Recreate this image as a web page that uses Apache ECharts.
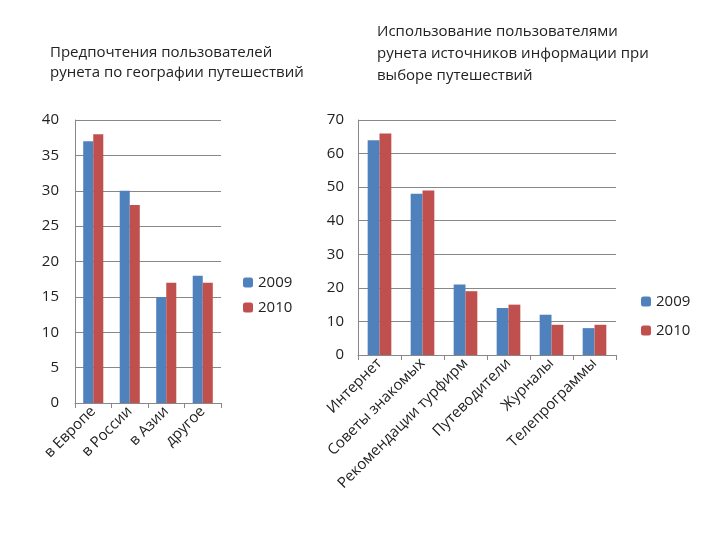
<!DOCTYPE html>
<html><head><meta charset="utf-8">
<script src="https://cdn.jsdelivr.net/npm/echarts@6/dist/echarts.min.js"></script>
<style>html,body{margin:0;background:#fff}#c{width:720px;height:540px}</style>
</head><body><div id="c"></div>
<script>
const catsL = ['в Европе','в России','в Азии','другое'];
const l2009 = [37,30,15,18];
const l2010 = [38,28,17,17];
const catsR = ['Интернет','Советы знакомых','Рекомендации турфирм','Путеводители','Журналы','Телепрограммы'];
const r2009 = [64,48,21,14,12,8];
const r2010 = [66,49,19,15,9,9];
const blue = '#4F81BD', red = '#C0504D';
const F = 'Open Sans';
const ax = (max, interval, m) => ({type:'value',min:0,max,interval,
  axisLine:{show:true,lineStyle:{color:'#888'}},
  axisLabel:{fontFamily:F,fontSize:15,color:'#222',margin:m},
  splitLine:{lineStyle:{color:'#888'}}});
const cx = (cats, gi) => ({type:'category',data:cats,gridIndex:gi,
  axisTick:{show:true,length:5},axisLine:{lineStyle:{color:'#888'}},
  axisLabel:{rotate:45,fontFamily:F,fontSize:15,color:'#222',interval:0,margin:6}});
const chart = echarts.init(document.getElementById('c'));
chart.setOption({
  animation:false,
  title:[
    {text:'Предпочтения пользователей\nрунета по географии путешествий',left:45,top:38,
     textStyle:{fontFamily:F,fontSize:15,fontWeight:'normal',color:'#222',lineHeight:20}},
    {text:'Использование пользователями\nрунета источников информации при\nвыборе путешествий',left:372,top:16,
     textStyle:{fontFamily:F,fontSize:15,fontWeight:'normal',color:'#222',lineHeight:22}}
  ],
  legend:[
    {data:['2009','2010'],orient:'vertical',left:238,top:270,itemWidth:10,itemHeight:10,itemGap:10,
     textStyle:{fontFamily:F,fontSize:15,color:'#222'}},
    {data:['2009','2010'],orient:'vertical',left:636,top:289,itemWidth:10,itemHeight:10,itemGap:14,
     textStyle:{fontFamily:F,fontSize:15,color:'#222'}}
  ],
  grid:[
    {left:75,top:120,width:146,height:283},
    {left:358,top:120,width:258,height:235}
  ],
  xAxis:[cx(catsL,0),cx(catsR,1)],
  yAxis:[Object.assign(ax(40,5,16),{gridIndex:0}),Object.assign(ax(70,10,14),{gridIndex:1})],
  series:[
    {name:'2009',type:'bar',data:l2009,itemStyle:{color:blue},barGap:'0%',barCategoryGap:'45%',xAxisIndex:0,yAxisIndex:0},
    {name:'2010',type:'bar',data:l2010,itemStyle:{color:red},barGap:'0%',barCategoryGap:'45%',xAxisIndex:0,yAxisIndex:0},
    {name:'2009',type:'bar',data:r2009,itemStyle:{color:blue},barGap:'0%',barCategoryGap:'45%',xAxisIndex:1,yAxisIndex:1},
    {name:'2010',type:'bar',data:r2010,itemStyle:{color:red},barGap:'0%',barCategoryGap:'45%',xAxisIndex:1,yAxisIndex:1}
  ]
});
</script></body></html>
